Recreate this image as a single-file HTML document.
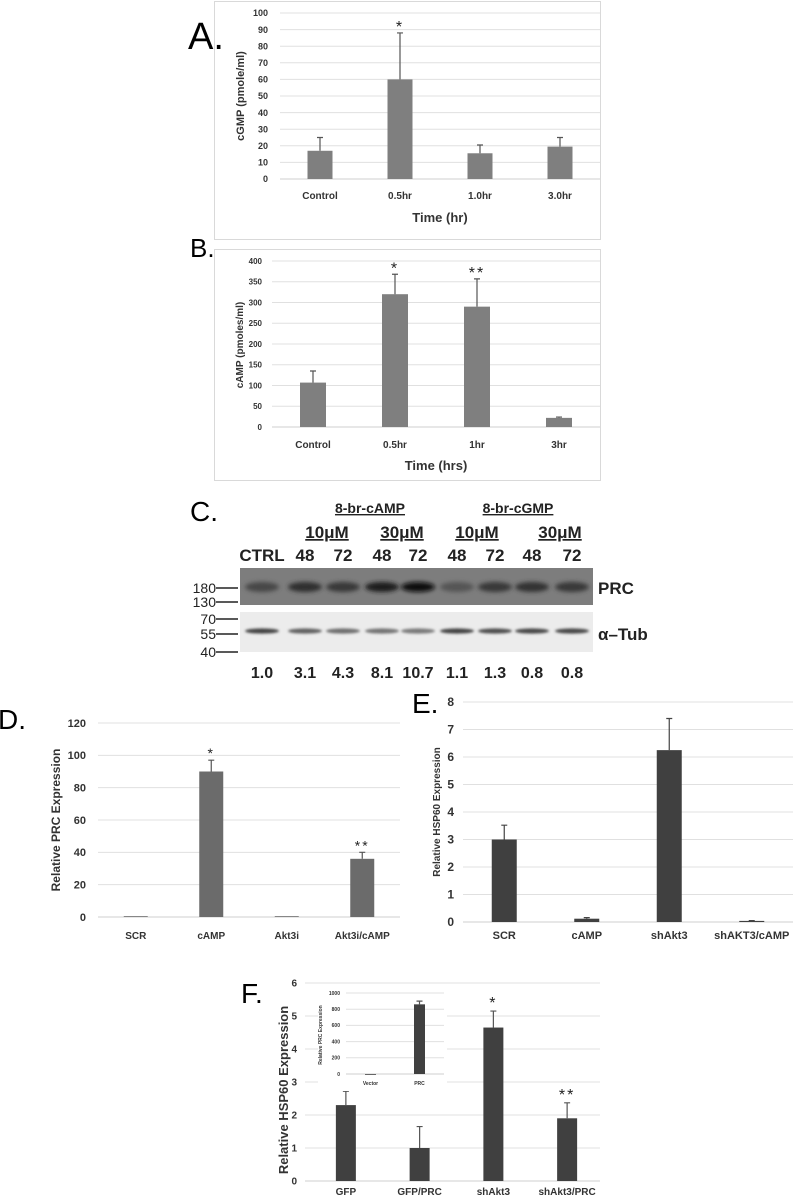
<!DOCTYPE html>
<html><head><meta charset="utf-8"><style>
body{margin:0;background:#fff;width:793px;height:1199px;overflow:hidden}
svg{display:block;font-family:"Liberation Sans",sans-serif}
</style></head><body>
<svg id="fig" width="793" height="1199" viewBox="0 0 793 1199">
<defs>
<filter id="blur1" x="-20%" y="-50%" width="140%" height="200%"><feGaussianBlur stdDeviation="2.2"/></filter>
<filter id="blur2" x="-20%" y="-50%" width="140%" height="200%"><feGaussianBlur stdDeviation="1.2"/></filter>
</defs>
<g><rect x="214.5" y="1.5" width="386" height="238" fill="#fff" stroke="#d9d9d9"/></g>
<g><rect x="214.5" y="249.5" width="386" height="231" fill="#fff" stroke="#d9d9d9"/></g>
<text x="188" y="49" font-size="38">A.</text>
<text x="190" y="257" font-size="26">B.</text>
<text x="190" y="521" font-size="28">C.</text>
<text x="-2" y="729" font-size="28">D.</text>
<text x="412" y="713" font-size="28">E.</text>
<text x="241" y="1003" font-size="28">F.</text>
<g id="charts"></g>
<g id="blot"></g>
</svg>
<script>
// Panel A
const catsA=["Control","0.5hr","1.0hr","3.0hr"];
const valsA=[17,60,15.5,19.5];
const errA=[25,88,20.5,25];
const ticksA=[0,10,20,30,40,50,60,70,80,90,100];
// Panel B
const catsB=["Control","0.5hr","1hr","3hr"];
const valsB=[107,320,290,22];
const errB=[135,368,357,24];
const ticksB=[0,50,100,150,200,250,300,350,400];
// Panel D
const catsD=["SCR","cAMP","Akt3i","Akt3i/cAMP"];
const valsD=[0.5,90,0.5,36];
const errD=[0.5,97,0.5,40];
const ticksD=[0,20,40,60,80,100,120];
// Panel E
const catsE=["SCR","cAMP","shAkt3","shAKT3/cAMP"];
const valsE=[3.0,0.12,6.25,0.04];
const errE=[3.52,0.16,7.4,0.05];
const ticksE=[0,1,2,3,4,5,6,7,8];
// Panel F
const catsF=["GFP","GFP/PRC","shAkt3","shAkt3/PRC"];
const valsF=[2.3,1.0,4.65,1.9];
const errF=[2.72,1.65,5.15,2.37];
const ticksF=[0,1,2,3,4,5,6];
// Inset
const catsI=["Vector","PRC"];
const valsI=[0,860];
const errI=[0,900];
const ticksI=[0,200,400,600,800,1000];
// Blot
const lanes=["CTRL","48","72","48","72","48","72","48","72"];
const quant=["1.0","3.1","4.3","8.1","10.7","1.1","1.3","0.8","0.8"];
const prcBand=[0.35,0.6,0.5,0.75,0.95,0.2,0.5,0.55,0.5];
const tubBand=[0.85,0.6,0.5,0.45,0.4,0.85,0.75,0.8,0.8];

const NS="http://www.w3.org/2000/svg";
function mk(tag,attrs,parent){const e=document.createElementNS(NS,tag);for(const k in attrs)e.setAttribute(k,attrs[k]);parent.appendChild(e);return e;}
function txt(s,attrs,parent){const e=mk('text',attrs,parent);e.textContent=s;return e;}

function chart(o){
  const g=mk('g',{},document.getElementById('charts'));
  
  
  const max=o.ticks[o.ticks.length-1];
  const y=v=>o.y0-(v/max)*(o.y0-o.y1);
  const n=o.cats.length, step=(o.x1-o.x0)/n;
  const x=i=>o.x0+step*(i+0.5)+(o.shift||0);
  o.ticks.forEach(t=>{
    const l=mk('line',{x1:o.x0,x2:o.x1,y1:y(t),y2:y(t),stroke:t===0?'#cfcfcf':'#e0e0e0','stroke-width':1},g);
    
    
    const tl=txt(String(t),{x:o.tx,y:y(t)+o.tf*0.35,'font-size':o.tf,'text-anchor':'end','font-weight':'bold',fill:'#333'},g);
    
    
  });
  o.cats.forEach((c,i)=>{
    const v=o.vals[i], w=o.bw;
    const b=mk('rect',{x:x(i)-w/2,y:y(v),width:w,height:Math.max(y(0)-y(v),0.8),fill:o.color},g);
    
    
    if(o.err[i]>v){
      const e=mk('path',{d:`M${x(i)} ${y(v)}V${y(o.err[i])}M${x(i)-3} ${y(o.err[i])}H${x(i)+3}`,stroke:o.ecol||'#555','stroke-width':1.2,fill:'none'},g);
      
      
    }
    const cl=txt(c,{x:x(i),y:o.cy,'font-size':o.cf,'text-anchor':'middle','font-weight':'bold',fill:'#333'},g);
    
    
    if(o.stars&&o.stars[i]){
      const s=txt(o.stars[i],{x:x(i),y:y(o.err[i])+o.sOff,'font-size':o.sf,'text-anchor':'middle',fill:'#222','letter-spacing':2},g);
      
      
    }
  });
  const yl=txt(o.ylabel,{x:0,y:0,transform:`translate(${o.ylx},${o.yly}) rotate(-90)`,'font-size':o.yf,'text-anchor':'middle','font-weight':'bold',fill:'#333'},g);
  
  
  if(o.xlabel){const xl=txt(o.xlabel,{x:(o.x0+o.x1)/2+(o.shift||0),y:o.xly,'font-size':13,'text-anchor':'middle','font-weight':'bold',fill:'#333'},g);
    
    }
  return g;
}

chart({name:'chart-a-cgmp',cats:catsA,vals:valsA,err:errA,ticks:ticksA,x0:280,x1:600,y0:179,y1:13,bw:25,color:'#7f7f7f',tx:268,tf:9,cy:199,cf:10,ylabel:'cGMP (pmole/ml)',ylx:244,yly:96,yf:11,xlabel:'Time (hr)',xly:222,stars:['','*','',''],sOff:-1,sf:16});
chart({name:'chart-b-camp',cats:catsB,vals:valsB,err:errB,ticks:ticksB,x0:272,x1:600,y0:427,y1:261,bw:26,color:'#7f7f7f',tx:262,tf:8,cy:448,cf:10,ylabel:'cAMP (pmoles/ml)',ylx:243,yly:345,yf:10,xlabel:'Time (hrs)',xly:470,stars:['','*','**',''],sOff:-1,sf:16});
chart({name:'chart-d-prc',cats:catsD,vals:valsD,err:errD,ticks:ticksD,x0:98,x1:400,y0:917,y1:723,bw:24,color:'#6b6b6b',tx:86,tf:11,cy:939,cf:10,ylabel:'Relative PRC Expression',ylx:60,yly:820,yf:12,stars:['','*','','**'],sOff:-2,sf:14});
chart({name:'chart-e-hsp60',cats:catsE,vals:valsE,err:errE,ticks:ticksE,x0:463,x1:793,y0:922,y1:702,bw:25,color:'#404040',tx:454,tf:12,cy:939,cf:11,ylabel:'Relative HSP60 Expression',ylx:440,yly:812,yf:10,ecol:'#444'});
chart({name:'chart-f-hsp60',cats:catsF,vals:valsF,err:errF,ticks:ticksF,x0:305,x1:600,y0:1181,y1:983,bw:20,color:'#404040',tx:297,tf:10,cy:1195,cf:10,ylabel:'Relative HSP60 Expression',ylx:288,yly:1090,yf:13,ecol:'#555',stars:['','','*','**'],sOff:-3,sf:16,shift:4});
const ib=mk('rect',{x:318,y:986,width:129,height:105,fill:'#fff'},document.getElementById('charts'));


chart({name:'inset-chart-prc',cats:catsI,vals:valsI,err:errI,ticks:ticksI,x0:346,x1:444,y0:1074,y1:993,bw:11,color:'#404040',tx:340,tf:5,cy:1085,cf:5,ylabel:'Relative PRC Expression',ylx:322,yly:1035,yf:5,ecol:'#555'});

// Blot
const bl=document.getElementById('blot');
const lx=[262,305,343,382,418,457,495,532,572];
txt('8-br-cAMP',{x:370,y:513,'font-size':14,'font-weight':'bold','text-anchor':'middle','text-decoration':'underline',fill:'#222'},bl);
txt('8-br-cGMP',{x:518,y:513,'font-size':14,'font-weight':'bold','text-anchor':'middle','text-decoration':'underline',fill:'#222'},bl);
[[327,'10μM'],[402,'30μM'],[477,'10μM'],[560,'30μM']].forEach(d=>{
  const t=txt(d[1],{x:d[0],y:538,'font-size':17,'font-weight':'bold','text-anchor':'middle','text-decoration':'underline',fill:'#222'},bl);
  
});
lanes.forEach((l,i)=>{
  const t=txt(l,{x:lx[i],y:561,'font-size':17,'font-weight':'bold','text-anchor':'middle',fill:'#222'},bl);
  
  const q=txt(quant[i],{x:lx[i],y:678,'font-size':16,'font-weight':'bold','text-anchor':'middle',fill:'#222'},bl);
  
});
const b1=mk('rect',{x:240,y:568,width:353,height:37,fill:'#7d7d7d'},bl);

const b2=mk('rect',{x:240,y:612,width:353,height:40,fill:'#ececec'},bl);

lanes.forEach((l,i)=>{
  const c1=Math.round(105-prcBand[i]*100);
  const e1=mk('ellipse',{cx:lx[i],cy:587,rx:17,ry:5,fill:`rgb(${c1},${c1},${c1})`,filter:'url(#blur1)'},bl);
  
  const c2=Math.round(170-tubBand[i]*120);
  const e2=mk('ellipse',{cx:lx[i],cy:631,rx:17,ry:2.6,fill:`rgb(${c2},${c2},${c2})`,filter:'url(#blur2)'},bl);
  
});
[[180,588],[130,602],[70,619],[55,634],[40,652]].forEach(m=>{
  const t=txt(String(m[0]),{x:216,y:m[1]+5,'font-size':14,'text-anchor':'end',fill:'#222'},bl);
  
  const ln=mk('line',{x1:216,x2:238,y1:m[1],y2:m[1],stroke:'#222','stroke-width':1.5},bl);
  
});
txt('PRC',{x:598,y:594,'font-size':17,'font-weight':'bold',fill:'#222'},bl);
txt('α–Tub',{x:598,y:640,'font-size':17,'font-weight':'bold',fill:'#222'},bl);
</script>
</body></html>
